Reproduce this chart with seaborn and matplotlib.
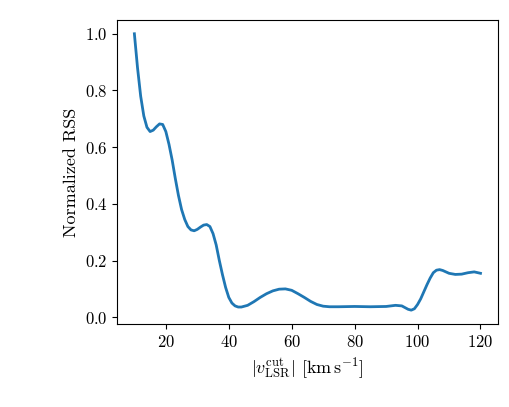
import numpy as np
import pandas as pd
import matplotlib
matplotlib.use("Agg")
import matplotlib.pyplot as plt
import seaborn as sns

# RSS curve
v_cut = [10, 11, 12, 13, 14, 15, 16, 17, 18, 19, 20, 21, 22, 23, 24, 25, 26, 27, 28, 29,
         30, 31, 32, 33, 34, 35, 36, 37, 38, 39, 40, 41, 42, 43, 44, 46, 48, 50, 52, 54,
         56, 58, 60, 62, 64, 66, 68, 70, 72, 75, 80, 85, 90, 93, 95, 97, 98, 99, 100, 101,
         102, 103, 104, 105, 106, 107, 108, 110, 112, 114, 116, 118, 120]
rss = [1.00, 0.88, 0.78, 0.71, 0.67, 0.655, 0.66, 0.672, 0.682, 0.68, 0.655, 0.61, 0.555,
       0.49, 0.43, 0.38, 0.345, 0.32, 0.308, 0.305, 0.31, 0.318, 0.325, 0.327, 0.32, 0.295,
       0.255, 0.20, 0.15, 0.105, 0.07, 0.05, 0.04, 0.036, 0.036, 0.042, 0.055, 0.07, 0.083,
       0.093, 0.099, 0.10, 0.095, 0.083, 0.07, 0.056, 0.045, 0.039, 0.037, 0.037, 0.038,
       0.037, 0.038, 0.042, 0.04, 0.028, 0.025, 0.03, 0.045, 0.065, 0.09, 0.115, 0.138,
       0.157, 0.166, 0.168, 0.165, 0.155, 0.151, 0.152, 0.157, 0.16, 0.155]

df = pd.DataFrame({"v": v_cut, "rss": rss})

plt.rcParams["font.family"] = "serif"
plt.rcParams["font.serif"] = ["cmr10"]
plt.rcParams["mathtext.fontset"] = "cm"
plt.rcParams["axes.formatter.use_mathtext"] = True
plt.rcParams["font.size"] = 13
plt.rcParams["xtick.labelsize"] = 12
plt.rcParams["ytick.labelsize"] = 12

fig = plt.figure(figsize=(5.09, 4.07), dpi=100)
ax = fig.add_axes([0.230, 0.204, 0.748, 0.747])
sns.lineplot(data=df, x="v", y="rss", ax=ax, color="#1f77b4", linewidth=2)

ax.set_xlabel(r"$|v_{\rm LSR}^{\rm cut}|$ [$\mathrm{km\,s^{-1}}$]")
ax.set_ylabel("Normalized RSS")
ax.set_xticks([20, 40, 60, 80, 100, 120])
ax.set_yticks([0.0, 0.2, 0.4, 0.6, 0.8, 1.0])

plt.savefig("out.png", dpi=100)
